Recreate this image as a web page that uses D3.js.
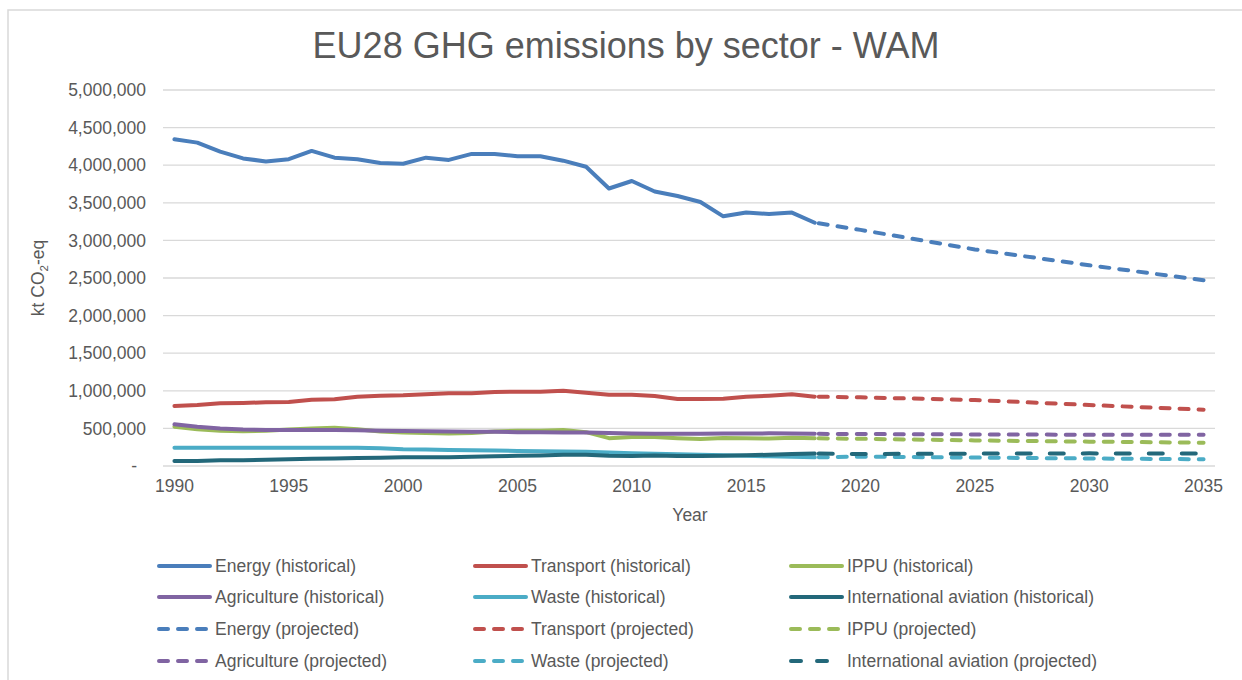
<!DOCTYPE html>
<html><head><meta charset="utf-8">
<script src="https://cdn.jsdelivr.net/npm/d3@7"></script>
<style>
html,body{margin:0;padding:0;background:#fff;}
svg text{font-family:"Liberation Sans",Arial,sans-serif;fill:#595959;}
</style></head>
<body><svg id="chart" width="1242" height="680"></svg>
<script>
const histYears = d3.range(1990, 2019);
const projYears = [2018, 2020, 2025, 2030, 2035];
const allYears = d3.range(1990, 2036);

const energyHist = [4345000,4300000,4180000,4090000,4050000,4080000,4190000,4100000,4080000,4030000,4020000,4100000,4070000,4150000,4150000,4120000,4120000,4060000,3980000,3690000,3790000,3650000,3590000,3510000,3320000,3370000,3350000,3370000,3235000];
const transportHist = [798000,812000,834000,838000,847000,851000,882000,887000,922000,935000,940000,953000,966000,966000,984000,988000,988000,1001000,975000,948000,948000,931000,891000,891000,895000,922000,935000,953000,922000];
const ippuHist = [523000,490000,470000,462000,470000,485000,500000,510000,490000,460000,445000,440000,432000,440000,460000,470000,470000,478000,450000,370000,385000,385000,370000,360000,372000,368000,365000,375000,368000];
const agriHist = [554000,523000,500000,485000,478000,478000,480000,480000,476000,470000,466000,462000,458000,455000,456000,450000,448000,447000,445000,438000,432000,430000,430000,428000,432000,433000,434000,432000,428000];
const wasteHist = [244000,244000,243000,243000,243000,243000,243000,243000,242000,235000,222000,218000,214000,210000,205000,200000,196000,194000,190000,180000,170000,163000,155000,148000,142000,135000,128000,122000,115000];
const aviationHist = [66000,68000,75000,78000,82000,90000,95000,100000,105000,110000,118000,118000,118000,122000,130000,135000,140000,148000,150000,135000,133000,138000,133000,133000,137000,143000,150000,158000,165000];

const energyProj = [3235000,3140000,2880000,2670000,2470000];
const transportProj = [922000,913000,878000,811000,749000];
const ippuProj = [368000,362000,340000,324000,310000];
const agriProj = [428000,425000,420000,416000,414000];
const wasteProj = [115000,125000,112000,100000,90000];
const aviationProj = [165000,160000,165000,168000,165000];

const yTicks = d3.range(0, 5000001, 500000);
const xTickYears = d3.range(1990, 2036, 5);

const seriesNames = ["Energy","Transport","IPPU","Agriculture","Waste","International aviation"];
const seriesColors = ["#4a7ebb","#c0504d","#9bbb59","#8064a2","#4bacc6","#23687a"];

const hist = [energyHist, transportHist, ippuHist, agriHist, wasteHist, aviationHist];
const proj = [energyProj, transportProj, ippuProj, agriProj, wasteProj, aviationProj];

const svg = d3.select("#chart");
const L = 163, R = 1215, T = 90, B = 466;
const FS = "17.5px";

// outer border
svg.append("rect").attr("x",8).attr("y",10).attr("width",1300).attr("height",700)
  .attr("fill","none").attr("stroke","#d9d9d9").attr("stroke-width",1.5);

const x = d3.scalePoint().domain(allYears).range([L, R]).padding(0.5);
const y = d3.scaleLinear().domain([0, 5000000]).range([B, T]);

// gridlines
svg.append("g").selectAll("line").data(yTicks).join("line")
  .attr("x1", L).attr("x2", R).attr("y1", d=>y(d)).attr("y2", d=>y(d))
  .attr("stroke","#d9d9d9").attr("stroke-width",1.3);

// y labels
const fmt = d3.format(",");
svg.append("g").selectAll("text").data(yTicks).join("text")
  .attr("x", d=> d===0 ? 137 : 146).attr("y", d=>y(d)).attr("dy","0.35em")
  .attr("text-anchor","end").style("font-size",FS)
  .text(d=> d===0 ? "-" : fmt(d));

// x labels
svg.append("g").selectAll("text").data(xTickYears).join("text")
  .attr("x", d=>x(d)).attr("y", 492)
  .attr("text-anchor","middle").style("font-size",FS)
  .text(d=>d);

// axis titles
svg.append("text").attr("x", 690).attr("y", 521).attr("text-anchor","middle")
  .style("font-size",FS).text("Year");
const yt = svg.append("text").attr("transform","translate(44,278) rotate(-90)")
  .attr("text-anchor","middle").style("font-size",FS);
yt.append("tspan").text("kt CO");
yt.append("tspan").attr("dy", 4).style("font-size","11.5px").text("2");
yt.append("tspan").attr("dy", -4).text("-eq");

// title
svg.append("text").attr("x", 626).attr("y", 58).attr("text-anchor","middle")
  .style("font-size","36px").text("EU28 GHG emissions by sector - WAM");

const line = d3.line().x(d=>x(d[0])).y(d=>y(d[1]));
const dashFor = i => i === 5 ? "14,19" : "9,10";

// historical lines
hist.forEach((vals, i) => {
  svg.append("path").datum(histYears.map((yr,k)=>[yr, vals[k]]))
    .attr("d", line).attr("fill","none").attr("stroke", seriesColors[i])
    .attr("stroke-width",4).attr("stroke-linejoin","round").attr("stroke-linecap","round");
});
// projected lines
proj.forEach((vals, i) => {
  svg.append("path").datum(projYears.map((yr,k)=>[yr, vals[k]]))
    .attr("d", line).attr("fill","none").attr("stroke", seriesColors[i])
    .attr("stroke-width",4).attr("stroke-dasharray", dashFor(i)).attr("stroke-dashoffset", -4)
    .attr("stroke-linecap","round");
});

// legend
const legendItems = [];
seriesNames.forEach((n,i)=>legendItems.push({name:n+" (historical)", color:seriesColors[i], dashed:false, idx:i}));
seriesNames.forEach((n,i)=>legendItems.push({name:n+" (projected)", color:seriesColors[i], dashed:true, idx:i}));
const colX = [157, 473, 789];
const rowY = [566, 597, 629, 661];
const lg = svg.append("g");
legendItems.forEach((it, k) => {
  const cx = colX[k % 3], cy = rowY[Math.floor(k / 3)];
  lg.append("line").attr("x1", cx+2).attr("x2", cx+53).attr("y1", cy).attr("y2", cy)
    .attr("stroke", it.color).attr("stroke-width",4).attr("stroke-linecap","round")
    .attr("stroke-dasharray", it.dashed ? (it.idx===5 ? "10,16" : "9,10") : null);
  lg.append("text").attr("x", cx+58).attr("y", cy).attr("dy","0.35em")
    .style("font-size",FS).text(it.name);
});
</script></body></html>
